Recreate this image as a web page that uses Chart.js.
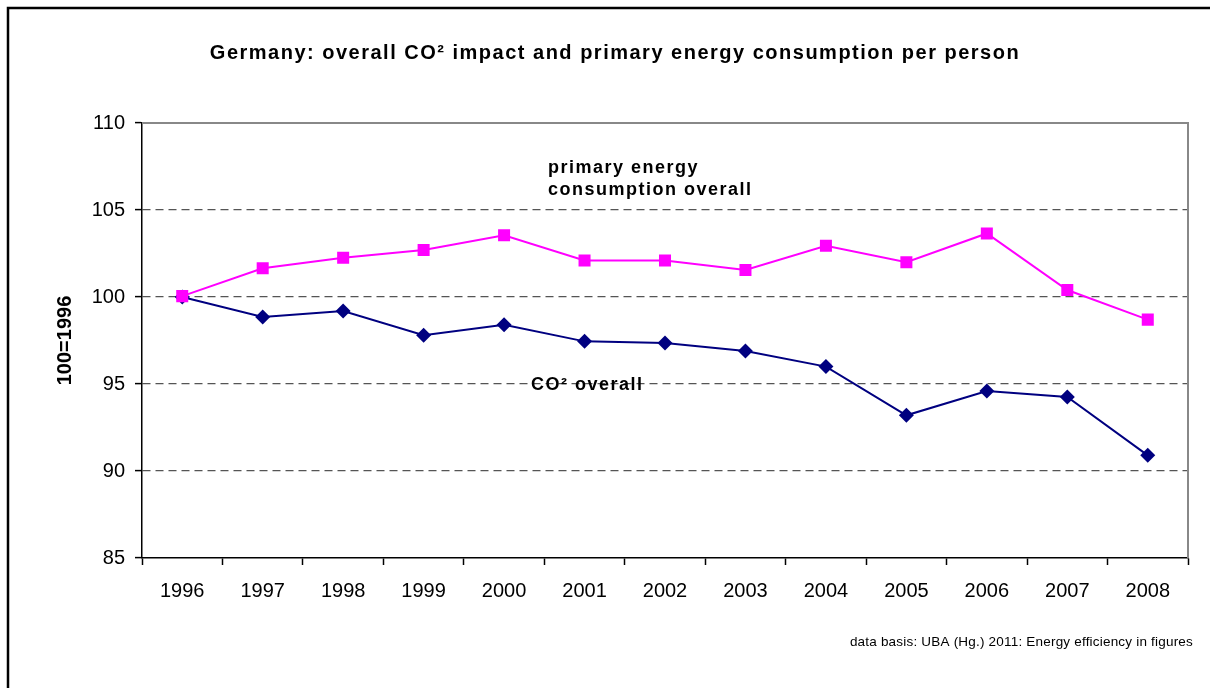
<!DOCTYPE html>
<html>
<head>
<meta charset="utf-8">
<script src="https://cdn.jsdelivr.net/npm/chart.js@4"></script>
<style>
  html, body { margin: 0; padding: 0; background: #fff; }
  #wrap { width: 1210px; height: 688px; position: relative; }
</style>
</head>
<body>
<div id="wrap"><canvas id="c" width="1210" height="688"></canvas></div>
<script>
const categories = ['1996','1997','1998','1999','2000','2001','2002','2003','2004','2005','2006','2007','2008'];
const primaryEnergy = [100.05, 101.65, 102.25, 102.7, 103.55, 102.1, 102.1, 101.55, 102.95, 102.0, 103.65, 100.4, 98.7];
const co2Overall = [100.0, 98.85, 99.2, 97.8, 98.4, 97.45, 97.35, 96.9, 96.0, 93.2, 94.6, 94.25, 90.9];
const yTicks = [85, 90, 95, 100, 105, 110];

const titleText = 'Germany: overall CO\u00B2 impact and primary energy consumption per person';
const footText = 'data basis: UBA (Hg.) 2011: Energy efficiency in figures';
const FONT = '"Liberation Sans", Arial, sans-serif';

const decorPlugin = {
  id: 'decor',
  beforeDraw(chart) {
    const ctx = chart.ctx;
    ctx.save();
    ctx.fillStyle = '#fff';
    ctx.fillRect(0, 0, chart.width, chart.height);
    ctx.strokeStyle = '#000';
    ctx.lineWidth = 2.5;
    ctx.beginPath();
    ctx.moveTo(8, chart.height + 5);
    ctx.lineTo(8, 8);
    ctx.lineTo(chart.width + 5, 8);
    ctx.stroke();
    ctx.restore();
  },
  beforeDatasetsDraw(chart) {
    const ctx = chart.ctx;
    const a = chart.chartArea;
    ctx.save();
    ctx.strokeStyle = '#888';
    ctx.lineWidth = 2;
    ctx.beginPath();
    ctx.moveTo(a.left, a.top);
    ctx.lineTo(a.right, a.top);
    ctx.lineTo(a.right, a.bottom);
    ctx.stroke();
    ctx.restore();
  },
  afterDraw(chart) {
    const ctx = chart.ctx;
    ctx.save();
    ctx.fillStyle = '#000';
    ctx.textBaseline = 'middle';
    // Title
    ctx.font = 'bold 20px ' + FONT;
    ctx.textAlign = 'center';
    ctx.letterSpacing = '1.5px';
    ctx.fillText(titleText, 615, 53);
    // Series annotations
    ctx.textAlign = 'left';
    ctx.font = 'bold 18px ' + FONT;
    ctx.letterSpacing = '1.5px';
    ctx.fillText('primary energy', 548, 168);
    ctx.fillText('consumption overall', 548, 190);
    ctx.fillText('CO\u00B2 overall', 531, 385);
    // Footnote
    ctx.font = '13.5px ' + FONT;
    ctx.letterSpacing = '0.2px';
    ctx.textAlign = 'right';
    ctx.fillText(footText, 1193, 642);
    ctx.restore();
  }
};

new Chart(document.getElementById('c'), {
  type: 'line',
  data: {
    labels: categories,
    datasets: [
      {
        label: 'primary energy consumption overall',
        data: primaryEnergy,
        borderColor: '#FF00FF',
        backgroundColor: '#FF00FF',
        borderWidth: 2,
        pointStyle: 'rect',
        pointRadius: 8.5,
        pointHoverRadius: 8.5,
        pointBorderWidth: 0,
        tension: 0,
        fill: false
      },
      {
        label: 'CO\u00B2 overall',
        data: co2Overall,
        borderColor: '#000080',
        backgroundColor: '#000080',
        borderWidth: 2,
        pointStyle: 'rectRot',
        pointRadius: 7.5,
        pointHoverRadius: 7.5,
        pointBorderWidth: 0,
        tension: 0,
        fill: false
      }
    ]
  },
  options: {
    responsive: false,
    animation: false,
    devicePixelRatio: 1,
    layout: { padding: { left: 0, top: 123, right: 22, bottom: 0 } },
    plugins: {
      legend: { display: false },
      title: { display: false },
      tooltip: { enabled: false }
    },
    scales: {
      x: {
        type: 'category',
        offset: true,
        afterFit(s) { s.height = 688 - 558; },
        grid: {
          offset: true,
          drawOnChartArea: false,
          drawTicks: true,
          tickLength: 7,
          tickColor: '#000',
          tickWidth: 1.5
        },
        border: { color: '#000', width: 1.5 },
        ticks: {
          color: '#000',
          font: { family: FONT, size: 20 },
          padding: 14,
          maxRotation: 0,
          autoSkip: false
        }
      },
      y: {
        min: 85,
        max: 110,
        afterFit(s) { s.width = 142; },
        afterBuildTicks(s) { s.ticks = yTicks.map(v => ({ value: v })); },
        grid: {
          color: (c) => (c.tick && (c.tick.value === 85 || c.tick.value === 110)) ? 'rgba(0,0,0,0)' : '#555',
          lineWidth: 1.2,
          tickBorderDash: [],
          tickColor: '#000',
          tickWidth: 1.5,
          tickLength: 7,
          drawTicks: true
        },
        border: { color: '#000', width: 1.5, dash: [8, 5] },
        ticks: {
          color: '#000',
          font: { family: FONT, size: 20 },
          padding: 10
        },
        title: {
          display: true,
          text: '100=1996',
          color: '#000',
          font: { family: FONT, size: 20, weight: 'bold' },
          padding: { top: 53, bottom: 0 }
        }
      }
    }
  },
  plugins: [decorPlugin]
});
</script>
</body>
</html>
